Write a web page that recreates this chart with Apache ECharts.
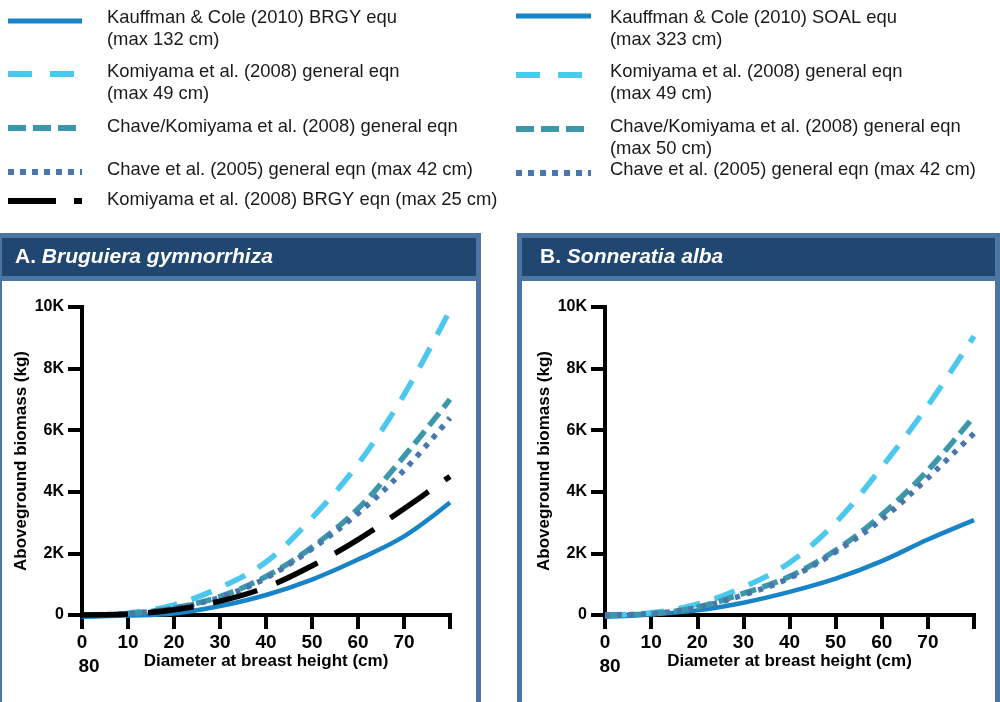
<!DOCTYPE html>
<html>
<head>
<meta charset="utf-8">
<script src="https://cdn.jsdelivr.net/npm/echarts@6/dist/echarts.min.js"></script>
<style>
  html, body { margin: 0; padding: 0; background: #ffffff; }
  #chart { width: 1000px; height: 702px; }
</style>
</head>
<body>
<div id="chart"></div>
<script>
// Diameter at breast height (cm) for every curve
const diameters = [0, 10, 20, 30, 40, 50, 60, 70, 80];

// A. Bruguiera gymnorrhiza, aboveground biomass (kg)
const brgyKauffman       = [-60, -20, 50, 290, 650, 1150, 1800, 2550, 3650];
const brgyKomiyamaGen    = [0, 60, 330, 890, 1720, 3150, 4900, 7150, 9900];
const brgyChaveKomiyama  = [0, 40, 230, 600, 1250, 2200, 3450, 5150, 7000];
const brgyChave2005      = [0, 40, 220, 570, 1200, 2150, 3300, 4700, 6400];
const brgyKomiyamaBrgy   = [0, 30, 170, 450, 900, 1600, 2450, 3450, 4500];

// B. Sonneratia alba, aboveground biomass (kg)
const soalKauffman       = [-60, 20, 150, 400, 750, 1180, 1750, 2450, 3080];
const soalKomiyamaGen    = [0, 70, 350, 900, 1700, 3000, 4800, 6800, 9050];
const soalChaveKomiyama  = [0, 40, 250, 700, 1250, 2100, 3250, 4700, 6450];
const soalChave2005      = [0, 40, 240, 650, 1200, 2050, 3100, 4450, 5900];

// Axis tick labels
const xTickLabels = ['0', '10', '20', '30', '40', '50', '60', '70', '80'];
const yTickLabels = ['0', '2K', '4K', '6K', '8K', '10K'];

// Legend entries
const legendLeft = [
  ['Kauffman & Cole (2010) BRGY equ', '(max 132 cm)'],
  ['Komiyama et al. (2008) general eqn', '(max 49 cm)'],
  ['Chave/Komiyama et al. (2008) general eqn'],
  ['Chave et al. (2005) general eqn (max 42 cm)'],
  ['Komiyama et al. (2008) BRGY eqn (max 25 cm)']
];
const legendRight = [
  ['Kauffman & Cole (2010) SOAL equ', '(max 323 cm)'],
  ['Komiyama et al. (2008) general eqn', '(max 49 cm)'],
  ['Chave/Komiyama et al. (2008) general eqn', '(max 50 cm)'],
  ['Chave et al. (2005) general eqn (max 42 cm)']
];

const FONT = "'Liberation Sans', Arial, Helvetica, sans-serif";

// Line styles per equation
const STYLES = {
  kauffman:      { color: '#1784c7', width: 4.5, type: 'solid' },
  komiyamaGen:   { color: '#4cc8ee', width: 5.5, type: [22, 15] },
  chaveKomiyama: { color: '#3a98aa', width: 5.5, type: [16, 7] },
  chave2005:     { color: '#4a76a9', width: 5.5, type: [5, 7] },
  komiyamaBrgy:  { color: '#000000', width: 5.5, type: [46, 20] }
};
const legendStyleLeft  = ['kauffman', 'komiyamaGen', 'chaveKomiyama', 'chave2005', 'komiyamaBrgy'];
const legendStyleRight = ['kauffman', 'komiyamaGen', 'chaveKomiyama', 'chave2005'];
const legendDash = {
  kauffman: null,
  komiyamaGen: [24, 18],
  chaveKomiyama: [18, 7],
  chave2005: [6, 6],
  komiyamaBrgy: [48, 18]
};

function curve(name, values, panel, key) {
  const s = STYLES[key];
  return {
    type: 'line',
    name: name,
    xAxisIndex: panel,
    yAxisIndex: panel,
    data: diameters.map((d, i) => [d, values[i]]),
    smooth: 0.35,
    showSymbol: false,
    clip: false,
    z: 20,
    lineStyle: { color: s.color, width: s.width, type: s.type, cap: 'butt' },
    emphasis: { disabled: true }
  };
}

function xAxis(gridIndex) {
  return {
    type: 'value', gridIndex: gridIndex, min: 0, max: 80, interval: 10,
    z: 10,
    name: 'Diameter at breast height (cm)', nameLocation: 'middle', nameGap: 36,
    nameTextStyle: { fontFamily: FONT, fontWeight: 'bold', fontSize: 17, color: '#000' },
    axisLine: { show: true, onZero: false, lineStyle: { color: '#000', width: 4, cap: 'square' } },
    axisTick: { show: true, length: 14, lineStyle: { color: '#000', width: 4 } },
    axisLabel: {
      margin: 18, fontFamily: FONT, fontWeight: 'bold', fontSize: 19, color: '#000',
      // the 80 label sits on its own line below the 0
      formatter: v => (v === 80 ? '' : xTickLabels[v / 10])
    },
    splitLine: { show: false }
  };
}

function yAxis(gridIndex) {
  return {
    type: 'value', gridIndex: gridIndex, min: 0, max: 10000, interval: 2000,
    z: 10,
    name: 'Aboveground biomass (kg)', nameLocation: 'middle', nameGap: 52, nameRotate: 90,
    nameTextStyle: { fontFamily: FONT, fontWeight: 'bold', fontSize: 17, color: '#000' },
    axisLine: { show: true, onZero: false, lineStyle: { color: '#000', width: 4, cap: 'square' } },
    axisTick: { show: true, length: 14, lineStyle: { color: '#000', width: 4 } },
    axisLabel: {
      margin: 18, fontFamily: FONT, fontWeight: 'bold', fontSize: 16, color: '#000',
      formatter: v => yTickLabels[v / 2000]
    },
    splitLine: { show: false }
  };
}

// Panel frames and headers
const BORDER = '#4b75a2';
const HEADER = '#1f4770';
function panel(x, w, textX, letter, species) {
  return [
    { type: 'rect', z: -10, shape: { x: x, y: 235.5, width: w, height: 480 },
      style: { fill: '#ffffff', stroke: BORDER, lineWidth: 5 } },
    { type: 'rect', z: -9, shape: { x: x - 2.5, y: 233, width: w + 5, height: 48, r: [4, 4, 0, 0] },
      style: { fill: BORDER } },
    { type: 'rect', z: -8, shape: { x: x + 2.5, y: 238, width: w - 5, height: 38 },
      style: { fill: HEADER } },
    { type: 'text', z: -7, x: textX, y: 257,
      style: {
        text: '{b|' + letter + ' }{i|' + species + '}',
        verticalAlign: 'middle',
        rich: {
          b: { fontFamily: FONT, fontWeight: 'bold', fontSize: 21, fill: '#ffffff' },
          i: { fontFamily: FONT, fontWeight: 'bold', fontStyle: 'italic', fontSize: 21, fill: '#ffffff' }
        }
      } }
  ];
}

// Legend rows drawn as sample strokes plus text
function legendBlock(entries, styleKeys, lineX0, lineX1, textX, lineYs, textYs) {
  const out = [];
  entries.forEach((lines, i) => {
    const key = styleKeys[i];
    const s = STYLES[key];
    out.push({
      type: 'line', shape: { x1: lineX0, y1: lineYs[i], x2: lineX1, y2: lineYs[i] },
      style: { stroke: s.color, lineWidth: key === 'kauffman' ? 5 : 6, lineDash: legendDash[key] }
    });
    lines.forEach((t, j) => {
      out.push({
        type: 'text', x: textX, y: textYs[i] + j * 22,
        style: { text: t, fontFamily: FONT, fontSize: 18.4, fill: '#1a1a1a', verticalAlign: 'middle' }
      });
    });
  });
  return out;
}

const graphics = []
  .concat(panel(-0.5, 479, 15, 'A.', 'Bruguiera gymnorrhiza'))
  .concat(panel(519.5, 478, 540, 'B.', 'Sonneratia alba'))
  .concat(legendBlock(legendLeft, legendStyleLeft, 8, 82, 107,
    [21, 74, 128, 172, 201], [18, 72, 127, 170, 200]))
  .concat(legendBlock(legendRight, legendStyleRight, 516, 591, 610,
    [16, 75, 129, 173], [18, 72, 127, 170]))
  .concat([
    { type: 'text', x: 89, y: 667, style: { text: xTickLabels[8], fontFamily: FONT, fontWeight: 'bold', fontSize: 19, fill: '#000', align: 'center', verticalAlign: 'middle' } },
    { type: 'text', x: 610, y: 667, style: { text: xTickLabels[8], fontFamily: FONT, fontWeight: 'bold', fontSize: 19, fill: '#000', align: 'center', verticalAlign: 'middle' } }
  ]);

const chart = echarts.init(document.getElementById('chart'), null, { renderer: 'canvas' });
chart.setOption({
  animation: false,
  backgroundColor: '#ffffff',
  textStyle: { fontFamily: FONT },
  grid: [
    { left: 82, top: 307, width: 368, height: 308 },
    { left: 605, top: 307, width: 369, height: 308 }
  ],
  xAxis: [xAxis(0), xAxis(1)],
  yAxis: [yAxis(0), yAxis(1)],
  graphic: graphics,
  series: [
    curve('Kauffman & Cole (2010) BRGY equ', brgyKauffman, 0, 'kauffman'),
    curve('Komiyama et al. (2008) general eqn', brgyKomiyamaGen, 0, 'komiyamaGen'),
    curve('Chave/Komiyama et al. (2008) general eqn', brgyChaveKomiyama, 0, 'chaveKomiyama'),
    curve('Chave et al. (2005) general eqn', brgyChave2005, 0, 'chave2005'),
    curve('Komiyama et al. (2008) BRGY eqn', brgyKomiyamaBrgy, 0, 'komiyamaBrgy'),
    curve('Kauffman & Cole (2010) SOAL equ', soalKauffman, 1, 'kauffman'),
    curve('Komiyama et al. (2008) general eqn', soalKomiyamaGen, 1, 'komiyamaGen'),
    curve('Chave/Komiyama et al. (2008) general eqn', soalChaveKomiyama, 1, 'chaveKomiyama'),
    curve('Chave et al. (2005) general eqn', soalChave2005, 1, 'chave2005')
  ]
});
</script>
</body>
</html>
